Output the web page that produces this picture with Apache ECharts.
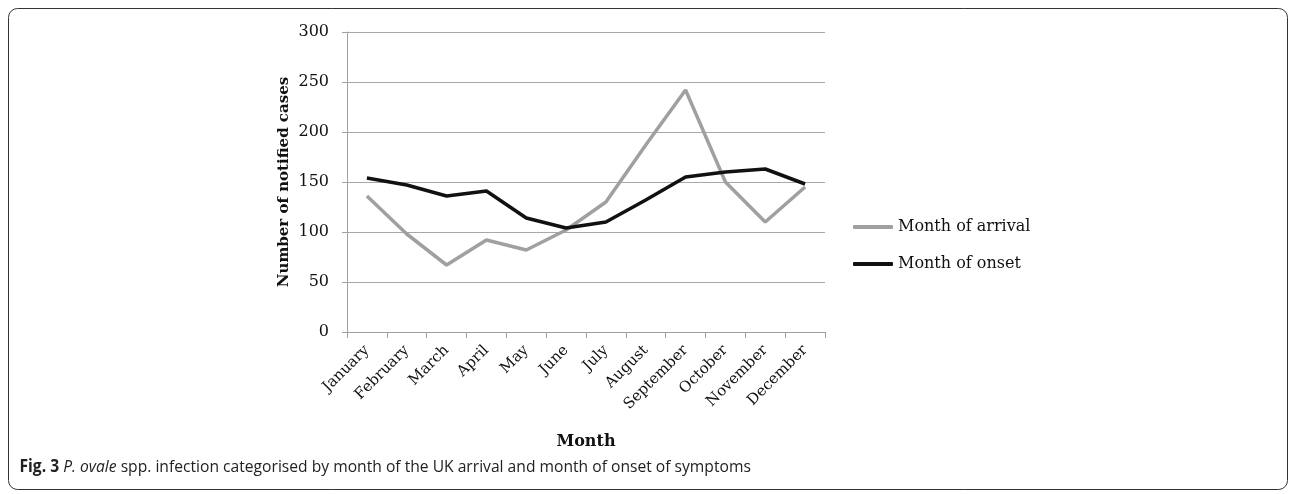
<!DOCTYPE html>
<html><head><meta charset="utf-8">
<script src="https://cdn.jsdelivr.net/npm/echarts@6/dist/echarts.min.js"></script>
<style>html,body{margin:0;padding:0;background:#fff;}#c{width:1292px;height:494px;}</style>
</head><body><div id="c"></div>
<script>
const months = ['January','February','March','April','May','June','July','August','September','October','November','December'];
const arrival = [136, 98, 67, 92, 82, 102, 130, 187, 242, 150, 110, 145];
const onset = [154, 147, 136, 141, 114, 104, 110, 132, 155, 160, 163, 148];
const yTicks = {min: 0, max: 300, interval: 50};
const seriesNames = ['Month of arrival', 'Month of onset'];

const chart = echarts.init(document.getElementById('c'), null, {renderer: 'canvas'});
const serif = 'DejaVu Serif';
chart.setOption({
  animation: false,
  backgroundColor: '#fff',
  grid: {left: 347, right: 467, top: 32, bottom: 162, containLabel: false},
  xAxis: {
    type: 'category', data: months, boundaryGap: true,
    name: 'Month', nameLocation: 'middle', nameGap: 102,
    nameTextStyle: {fontFamily: serif, fontWeight: 'bold', fontSize: 16, color: '#111'},
    axisLine: {lineStyle: {color: '#a0a0a0', width: 1}},
    axisTick: {show: true, length: 6, lineStyle: {color: '#a0a0a0'}},
    axisLabel: {rotate: 45, interval: 0, margin: 16, fontFamily: serif, fontSize: 15, color: '#111'},
    splitLine: {show: false}
  },
  yAxis: {
    type: 'value', min: yTicks.min, max: yTicks.max, interval: yTicks.interval,
    name: 'Number of notified cases', nameLocation: 'middle', nameGap: 55, nameRotate: 90,
    nameTextStyle: {fontFamily: serif, fontWeight: 'bold', fontSize: 15, color: '#111'},
    axisLine: {show: true, lineStyle: {color: '#a0a0a0', width: 1}},
    axisTick: {show: true, length: 5, lineStyle: {color: '#a0a0a0'}},
    axisLabel: {fontFamily: serif, fontSize: 16, color: '#111', margin: 18},
    splitLine: {show: true, lineStyle: {color: '#a8a8a8', width: 1}}
  },
  legend: {
    orient: 'vertical', left: 853, top: 218, itemGap: 19, padding: 0,
    itemWidth: 40, itemHeight: 4, icon: 'roundRect',
    textStyle: {fontFamily: serif, fontSize: 16, color: '#111', lineHeight: 18},
    data: seriesNames
  },
  series: [
    {name: seriesNames[0], type: 'line', data: arrival, showSymbol: false, symbol: 'none',
     lineStyle: {color: '#a0a0a0', width: 3.5}, itemStyle: {color: '#a0a0a0'}},
    {name: seriesNames[1], type: 'line', data: onset, showSymbol: false, symbol: 'none',
     lineStyle: {color: '#111111', width: 3.5}, itemStyle: {color: '#111111'}}
  ],
  graphic: [
    {type: 'rect', shape: {x: 8.5, y: 8.5, width: 1279, height: 481, r: 9},
     style: {fill: 'none', stroke: '#333', lineWidth: 1}, silent: true},
    {type: 'text', x: 18, y: 459, scaleX: 0.92, originX: 18,
     style: {
       text: '{b|Fig. 3} {i|P. ovale} spp. infection categorised by month of the UK arrival and month of onset of symptoms',
       font: '17px "Open Sans"', fill: '#222',
       rich: {
         b: {fontFamily: 'Open Sans', fontWeight: 'bold', fontSize: 17, fill: '#222'},
         i: {fontFamily: 'Open Sans', fontStyle: 'italic', fontSize: 17, fill: '#222'}
       }
     }}
  ]
});
</script></body></html>
